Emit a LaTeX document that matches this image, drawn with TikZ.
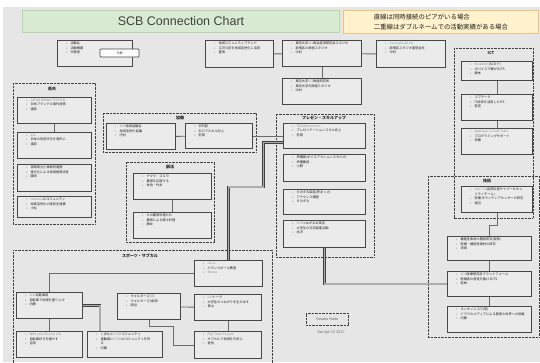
\documentclass[tikz,border=0pt]{standalone}
\usepackage{fontspec}
\setmainfont{Noto Sans CJK JP}
\newfontfamily\titlefont{Liberation Sans}
\XeTeXlinebreaklocale "ja"
\XeTeXlinebreakskip=0pt plus 1pt
\definecolor{canvas}{HTML}{E6E6E6}
\definecolor{boxfill}{HTML}{EBEBEB}
\definecolor{boxline}{HTML}{474747}
\definecolor{linkline}{HTML}{6A6A6A}
\definecolor{frameline}{HTML}{404040}
\definecolor{titlefill}{HTML}{D9EAD3}
\definecolor{titleline}{HTML}{B6D7A8}
\definecolor{notefill}{HTML}{FFF2CC}
\definecolor{noteline}{HTML}{F1C27D}
\definecolor{dimtext}{HTML}{8C8C8C}
\definecolor{ink}{HTML}{1E1E1E}
\newcommand{\acttext}{\fontsize{3.2}{4.5}\selectfont}
\newcommand{\actlines}[3]{\parbox[t][#2][t]{#1}{\vspace*{1.5pt}\leftskip=13pt\rightskip=1pt plus 1fil\parindent=0pt\relax #3}}
\newcommand{\actitem}{\par\noindent\llap{\textbullet\hspace{3pt}}}
\newcommand{\faint}[1]{{\color{dimtext}#1}}
\tikzset{
  act/.style={draw=boxline,line width=1.1pt,fill=boxfill,inner sep=0pt,anchor=north west,
              font=\acttext,text=ink},
  tag/.style={draw=boxline,line width=.7pt,fill=white,rounded corners=.8pt,inner sep=0pt,
              minimum width=39pt,minimum height=8pt,font=\fontsize{3}{3}\selectfont,text=ink},
  group/.style={draw=frameline,line width=.8pt,dash pattern=on .7pt off .7pt},
  grouptitle/.style={font=\bfseries\fontsize{4}{4}\selectfont,text=ink,inner sep=0pt},
  link/.style={draw=linkline,line width=.9pt},
  dbl/.style={draw=gray!50!black,line width=.6pt,double=gray!65,double distance=1.6pt},
  banner/.style={draw=titleline,line width=1pt,fill=titlefill,anchor=north west,
                 font=\titlefont\fontsize{12.5}{14}\selectfont,text=ink!85},
  note/.style={draw=noteline,line width=.8pt,fill=notefill,anchor=north west,align=left,
               font=\fontsize{6.4}{10}\selectfont,text=ink},
  signbox/.style={draw=frameline,line width=.7pt,dash pattern=on .7pt off .7pt,
                  minimum width=42pt,minimum height=12pt,inner sep=0pt,
                  font=\titlefont\fontsize{3.8}{4}\selectfont,text=gray!80!black},
  signdate/.style={inner sep=0pt,font=\titlefont\fontsize{3.8}{4}\selectfont,text=gray!80!black},
}
\begin{document}
\begin{tikzpicture}[x=1pt,y=-1pt]
  \useasboundingbox (0,0) rectangle (540,362);
  \fill[white] (0,0) rectangle (540,362);
  \fill[canvas] (3,7) rectangle (540,362);
  \node[banner,minimum width=317pt,minimum height=22pt] (title) at (22,10) {SCB Connection Chart};
  \node[note,minimum width=195pt,minimum height=22pt] (note) at (343,10)
      {直線は同時接続のピアがいる場合\\二重線はダブルネームでの活動実績がある場合};

  \draw[group] (13,83) rectangle (95,224);
  \node[grouptitle] (g-kengai) at (52,89) {県外};
  \draw[group] (103,113) rectangle (256,152);
  \node[grouptitle] (g-kyodo) at (180,118) {協働};
  \draw[group] (126,162) rectangle (214,242);
  \node[grouptitle] (g-bukatsu) at (170,167) {部活};
  \draw[group] (13,363) -- (13,250) -- (272,250) -- (272,363);
  \node[grouptitle] (g-sports) at (140,256) {スポーツ・サブカル};
  \draw[group] (276,114) rectangle (374,257);
  \node[grouptitle] (g-present) at (324,118) {プレゼン・スキルアップ};
  \draw[group] (454,48) rectangle (533,218);
  \node[grouptitle] (g-ict) at (491,53) {ICT};
  \draw[group] (428,176) rectangle (539,337);
  \node[grouptitle] (g-tech) at (487,181) {技術};

  \node[act] (legend) at (57,40) {\actlines{75pt}{26pt}{\actitem 活動名\actitem 活動概要\actitem 代表者}};
  \node[tag] (legendtag) at (119.5,53) {凡例};

  \node[act] (a1) at (205,40) {\actlines{68pt}{27pt}{\actitem 地域コミュニティブランド\actitem 江戸川区を地域活性化に活用\actitem 豊田}};
  \node[act] (a2) at (282,40) {\actlines{79pt}{26pt}{\actitem 東京大学\faint{SCI}政治経済研究会スタジオ\actitem 新宿区の政経スタジオ\actitem 中村}};
  \node[act] (a3) at (282,78) {\actlines{79pt}{26pt}{\actitem 東京大学\faint{SCI}政経研究所\actitem 東京大学内政経スタジオ\actitem 中村}};
  \node[act] (a4) at (376,40) {\actlines{69pt}{27pt}{\actitem \faint{Concept Lab Inc}\actitem 新宿区スタジオ運営会社\actitem 中村}};

  \node[act] (i1) at (461,61) {\actlines{71pt}{19pt}{\actitem \faint{KuraMON}(SCB ド)\actitem ボバイスで繋がるITS\actitem 藤本}};
  \node[act] (i2) at (461,94) {\actlines{71pt}{26pt}{\actitem マプラーク\actitem IT技術を活用したITS\actitem 若宮}};
  \node[act] (i3) at (461,128) {\actlines{71pt}{26pt}{\actitem \faint{Appliqué.ii CLUB Team}\actitem プログラミングサポート\actitem 伊藤}};

  \node[act] (t1) at (461,186) {\actlines{71pt}{26pt}{\actitem \faint{NOCTIS}(自然災害サイバーセキュ\newline リティチーム)\actitem 影響 ボランティアセンサーの研究\actitem 渡辺}};
  \node[act] (t2) at (447,236) {\actlines{84pt}{24pt}{\actitem 機能性素材の開発研究(仮称)\actitem 医療・機能性素材の研究\actitem 浅田}};
  \node[act] (t3) at (447,271) {\actlines{84pt}{25pt}{\actitem \faint{SCB}医療研究用プラットフォーム\actitem 医療者の意見を届けるITS\actitem 若林}};
  \node[act] (t4) at (447,306) {\actlines{84pt}{26pt}{\actitem ネンキノニコマ(仮)\actitem ドラマのメディアによる創造の世界への挑戦\actitem 内藤}};

  \node[act] (p1) at (283,123) {\actlines{82pt}{25pt}{\actitem \faint{TEDxHanzomon}\actitem プレゼンテーションスキル向上\actitem 前田}};
  \node[act] (p2) at (283,154) {\actlines{82pt}{27pt}{\actitem 声優部(ボイスアクションスタジオ)\actitem 声優養成\actitem 小野}};
  \node[act] (p3) at (283,189) {\actlines{82pt}{25pt}{\actitem すみずみ談話(声まっさ)\actitem アナウンス講座\actitem すみずみ}};
  \node[act] (p4) at (283,220) {\actlines{82pt}{27pt}{\actitem \faint{SCB}つながるお茶会\actitem 大学生の交流促進活動\actitem 永沢}};

  \node[act] (k1) at (106,123) {\actlines{69pt}{26pt}{\actitem \faint{SCB}地域協議会\actitem 地域活性化協議\actitem 内村}};
  \node[act] (k2) at (185,123) {\actlines{67pt}{25pt}{\actitem 日刊誌\actitem ECOでスキル向上\actitem 前田}};

  \node[act] (e1) at (17,97) {\actlines{74pt}{26pt}{\actitem \faint{JAPAN BRAND FESTIVAL}\actitem 日本ブランドの海外発信\actitem 渡部}};
  \node[act] (e2) at (17,132) {\actlines{74pt}{26pt}{\actitem \faint{e2n}\actitem 日本の伝統文化を海外に\actitem 渡部}};
  \node[act] (e3) at (17,164) {\actlines{74pt}{27pt}{\actitem 宮崎県立小林高校連携\actitem 食文化による地域振興活性\actitem 園田}};
  \node[act] (e4) at (17,196) {\actlines{74pt}{21pt}{\actitem \faint{numeria}のコミュニティ\actitem 地域活性化の高校生連携\actitem 小松}};

  \node[act] (b1) at (133,173) {\actlines{78pt}{26pt}{\actitem ナクラ・コルラ\actitem 農家を応援する\actitem 佐伯・竹永}};
  \node[act] (b2) at (133,212) {\actlines{78pt}{26pt}{\actitem たの農家料理たち\actitem 農家による郷土料理\actitem 藤井}};

  \node[act] (s1) at (194,260) {\actlines{68pt}{26pt}{\actitem \faint{Oh.ai}\actitem バランスボール教室\actitem \faint{Shiota}}};
  \node[act] (s2) at (194,294) {\actlines{67pt}{26pt}{\actitem \faint{Uni}トーク\actitem 大学生のつながりを生みます\actitem 青山}};
  \node[act] (s3) at (194,331) {\actlines{67pt}{27pt}{\actitem \faint{Pop Town Project}\actitem サブカルで地域を元気に\actitem 佐伯}};
  \node[act] (s4) at (117,293) {\actlines{63pt}{26pt}{\actitem ウォルターズ\faint{(仮)}\actitem ウォルターズ(卓球)\actitem 西谷}};
  \node[act] (s5) at (16,292) {\actlines{66pt}{26pt}{\actitem \faint{SCB}自転車部\actitem 自転車で地域を盛り上げ\actitem 内藤}};
  \node[act] (s6) at (16,331) {\actlines{66pt}{26pt}{\actitem \faint{With your Bicycle Life}\actitem 自転車好きを増やす\actitem 吉田}};
  \node[act] (s7) at (87,331) {\actlines{75pt}{26pt}{\actitem くまもと\faint{STEM}コミュニティ\actitem 運動場に\faint{STEM}のコミュニティを作\newline る\actitem 内藤}};

  \node[signbox] (author) at (327,319) {Yusaku Naito};
  \node[signdate] (date) at (331,333) {Sat Apr 22 2017};

  \draw[link] (a1) -- (a2);
  \draw[link] (a2) -- (a4);
  \draw[link] (a2) -- (a3);
  \draw[link] (i1) -- (i2);
  \draw[link] (i2) -- (i3);
  \draw[link] (t1.south) -- ++(0,12) -| (t2.north);
  \draw[link] (t2) -- (t3);
  \draw[link] (t3) -- (t4);
  \draw[link] (e1) -- (e2);
  \draw[link] (k1) -- (k2);
  \draw[link] (k2) -- (p1);
  \draw[link] (b1) -- (b2);
  \draw[link] (s5.north) |- (s1.west);
  \draw[link] (s5) -- (s6);
  \draw[link] (s4) -- (s2);
  \draw[link] (s4.south) -- ++(0,6) -- ++(24,0) |- (s3.west);
  \draw[link] (s2) -- (s3);
  \draw[dbl] (p4.south) |- (t3.west);
  \draw[dbl] (s1.north) -- ++(0,-73) -- ++(35,0) |- ([yshift=-6.5pt]p1.west);
  \draw[dbl] (s5.east) -| ([xshift=13pt]s7.north west);
\end{tikzpicture}
\end{document}
